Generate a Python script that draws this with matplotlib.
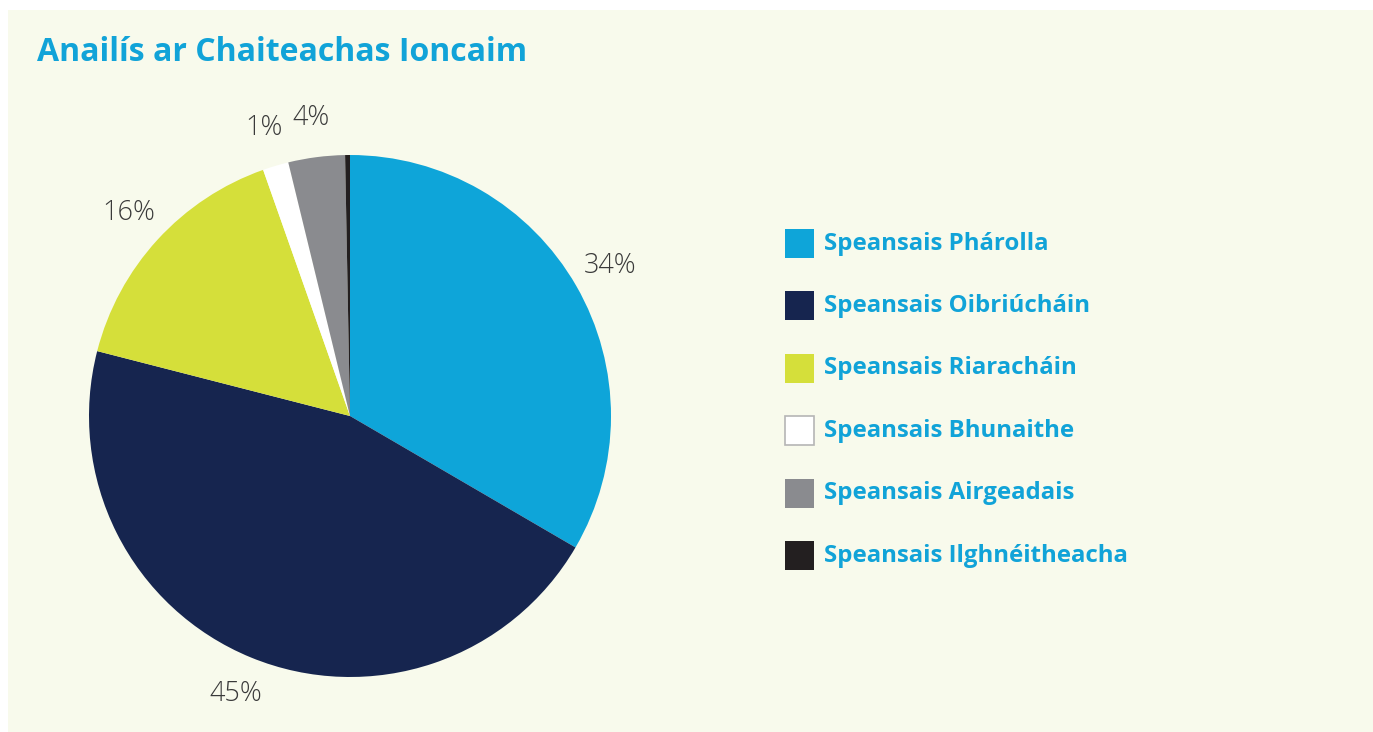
import matplotlib.pyplot as plt
from matplotlib.patches import Rectangle
import numpy as np

W, H = 1373, 732

title = "Anailís ar Chaiteachas Ioncaim"
categories = ["Speansais Phárolla", "Speansais Oibriúcháin", "Speansais Riaracháin",
              "Speansais Bhunaithe", "Speansais Airgeadais", "Speansais Ilghnéitheacha"]
shares = [33.4, 45.6, 15.6, 1.6, 3.5, 0.3]
pct_labels = ["34%", "45%", "16%", "1%", "4%", ""]
colors = ["#0ea5d9", "#16254f", "#d5df3a", "#ffffff", "#8a8b8f", "#231f20"]

cream = "#f8faec"
blue_text = "#11a3d8"

plt.rcParams['font.family'] = ['Open Sans', 'DejaVu Sans']

fig = plt.figure(figsize=(W / 100, H / 100), dpi=100, facecolor="white")

# cream panel behind everything
fig.patches.append(Rectangle((8 / W, 0), 1, 1 - 10 / H, transform=fig.transFigure,
                             facecolor=cream, edgecolor="none", zorder=-10))

fig.text(37 / W, 1 - 61 / H, title, fontsize=23, fontweight="bold",
         color=blue_text, va="baseline", ha="left")

# pie axes: centre (350, 416), radius 261 px
cx, cy, r = 350, 416, 261
lim = 1.02
ax = fig.add_axes([(cx - r * lim) / W, (H - cy - r * lim) / H, 2 * r * lim / W, 2 * r * lim / H])
ax.patch.set_alpha(0)
wedges, _ = ax.pie(shares, colors=colors, startangle=90, counterclock=False,
                   wedgeprops=dict(linewidth=0))
ax.set_xlim(-lim, lim)
ax.set_ylim(-lim, lim)
ax.axis("off")

for w, lab in zip(wedges, pct_labels):
    if not lab:
        continue
    ang = np.deg2rad((w.theta1 + w.theta2) / 2)
    ax.text(1.15 * np.cos(ang), 1.15 * np.sin(ang), lab, fontsize=19.5,
            color="#3a3a3a", ha="center", va="center", fontweight="light")

# legend drawn by hand
sq = 29
y0, pitch = 243.5, 62.4
for i, (cat, col) in enumerate(zip(categories, colors)):
    yc = y0 + i * pitch
    edge = "#b5b5b5" if col == "#ffffff" else "none"
    fig.patches.append(Rectangle((785 / W, (H - yc - sq / 2) / H), sq / W, sq / H,
                                 transform=fig.transFigure, facecolor=col,
                                 edgecolor=edge, linewidth=1.2, zorder=2))
    fig.text(824 / W, (H - yc) / H, cat, fontsize=17.3, fontweight="bold",
             color=blue_text, va="center", ha="left")

fig.savefig("out.png", dpi=100, facecolor=fig.get_facecolor())
